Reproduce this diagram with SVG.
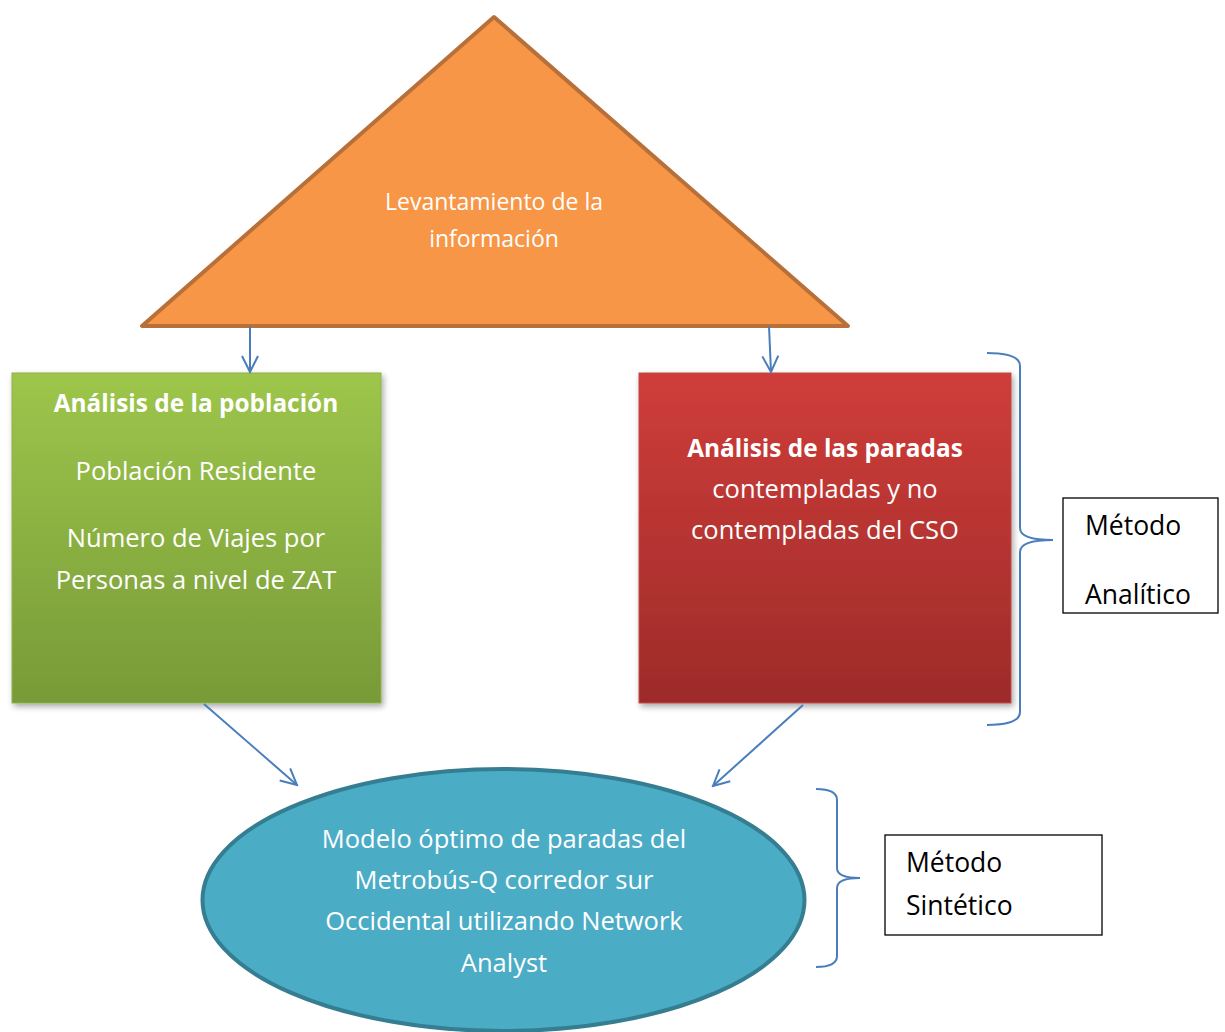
<svg xmlns="http://www.w3.org/2000/svg" width="1225" height="1032" viewBox="0 0 1225 1032">
<defs>
<linearGradient id="gGreen" x1="0" y1="0" x2="0" y2="1"><stop offset="0" stop-color="#9DC64B"/><stop offset="1" stop-color="#789A38"/></linearGradient>
<linearGradient id="gRed" x1="0" y1="0" x2="0" y2="1"><stop offset="0" stop-color="#CF3D3A"/><stop offset="1" stop-color="#9D2B29"/></linearGradient>
<filter id="sh" x="-5%" y="-5%" width="112%" height="112%"><feGaussianBlur in="SourceAlpha" stdDeviation="3"/><feOffset dx="2" dy="3"/><feComponentTransfer><feFuncA type="linear" slope="0.35"/></feComponentTransfer><feMerge><feMergeNode/><feMergeNode in="SourceGraphic"/></feMerge></filter>
<marker id="arr" viewBox="0 0 20 20" refX="18" refY="10" markerWidth="20" markerHeight="20" markerUnits="userSpaceOnUse" orient="auto"><path d="M2,2 L18,10 L2,18" fill="none" stroke="#4A7EBB" stroke-width="2"/></marker>
<style>
.w{font-family:"Open Sans","Noto Sans",sans-serif;fill:#fff;text-anchor:middle}
.k{font-family:"Open Sans","Noto Sans",sans-serif;fill:#000}
.con{stroke:#4A7EBB;stroke-width:2;fill:none}
.brace{stroke:#4A7EBB;stroke-width:2;fill:none}
.box{fill:#fff;stroke:#000;stroke-width:1.3}
</style>
</defs>
<rect width="1225" height="1032" fill="#fff"/>
<g id="triangle">
<polygon points="494,17 142,326 848,326" fill="#F79646" stroke="#B8703A" stroke-width="4" stroke-linejoin="round"/>
<text class="w" x="494" y="210" font-size="23">Levantamiento de la</text>
<text class="w" x="494" y="247" font-size="23">información</text>
</g>
<g id="poblacion">
<rect x="12" y="373" width="369" height="330" fill="url(#gGreen)" stroke="#8DB24A" stroke-width="1" filter="url(#sh)"/>
<text class="w" x="196" y="412" font-size="24.4" font-weight="bold">Análisis de la población</text>
<text class="w" x="196" y="480" font-size="25.5">Población Residente</text>
<text class="w" x="196" y="547" font-size="25.5">Número de Viajes por</text>
<text class="w" x="196" y="589" font-size="25.5">Personas a nivel de ZAT</text>
</g>
<g id="paradas">
<rect x="639" y="373" width="372" height="330" fill="url(#gRed)" stroke="#BE4B48" stroke-width="1" filter="url(#sh)"/>
<text class="w" x="825" y="457" font-size="24.4" font-weight="bold">Análisis de las paradas</text>
<text class="w" x="825" y="498" font-size="25.5">contempladas y no</text>
<text class="w" x="825" y="539" font-size="25.5">contempladas del CSO</text>
</g>
<g id="modelo">
<ellipse cx="503.5" cy="900" rx="301" ry="131" fill="#4BACC6" stroke="#357D91" stroke-width="4"/>
<text class="w" x="504" y="848" font-size="25.5">Modelo óptimo de paradas del</text>
<text class="w" x="504" y="889" font-size="25.5">Metrobús-Q corredor sur</text>
<text class="w" x="504" y="930" font-size="25.5">Occidental utilizando Network</text>
<text class="w" x="504" y="972" font-size="25.5">Analyst</text>
</g>
<g id="analitico">
<rect class="box" x="1063" y="498" width="155" height="115"/>
<text class="k" x="1085" y="535" font-size="26.5">Método</text>
<text class="k" x="1085" y="604" font-size="26.5">Analítico</text>
</g>
<g id="sintetico">
<rect class="box" x="885" y="835" width="217" height="100"/>
<text class="k" x="906" y="872" font-size="26.5">Método</text>
<text class="k" x="906" y="915" font-size="26.5">Sintético</text>
</g>
<g id="connectors">
<line class="con" x1="250" y1="326" x2="250" y2="372" marker-end="url(#arr)"/>
<line class="con" x1="769" y1="326" x2="771" y2="372" marker-end="url(#arr)"/>
<line class="con" x1="204" y1="704" x2="297" y2="785" marker-end="url(#arr)"/>
<line class="con" x1="803" y1="705" x2="713" y2="786" marker-end="url(#arr)"/>
<path class="brace" d="M987,353 Q1020,353 1020,366 L1020,528 Q1020,540 1053,540 Q1020,540 1020,552 L1020,712 Q1020,725 987,725"/>
<path class="brace" d="M816,789 Q837,789 837,800 L837,868 Q837,878 860,878 Q837,878 837,888 L837,956 Q837,967 816,967"/>
</g>
</svg>
